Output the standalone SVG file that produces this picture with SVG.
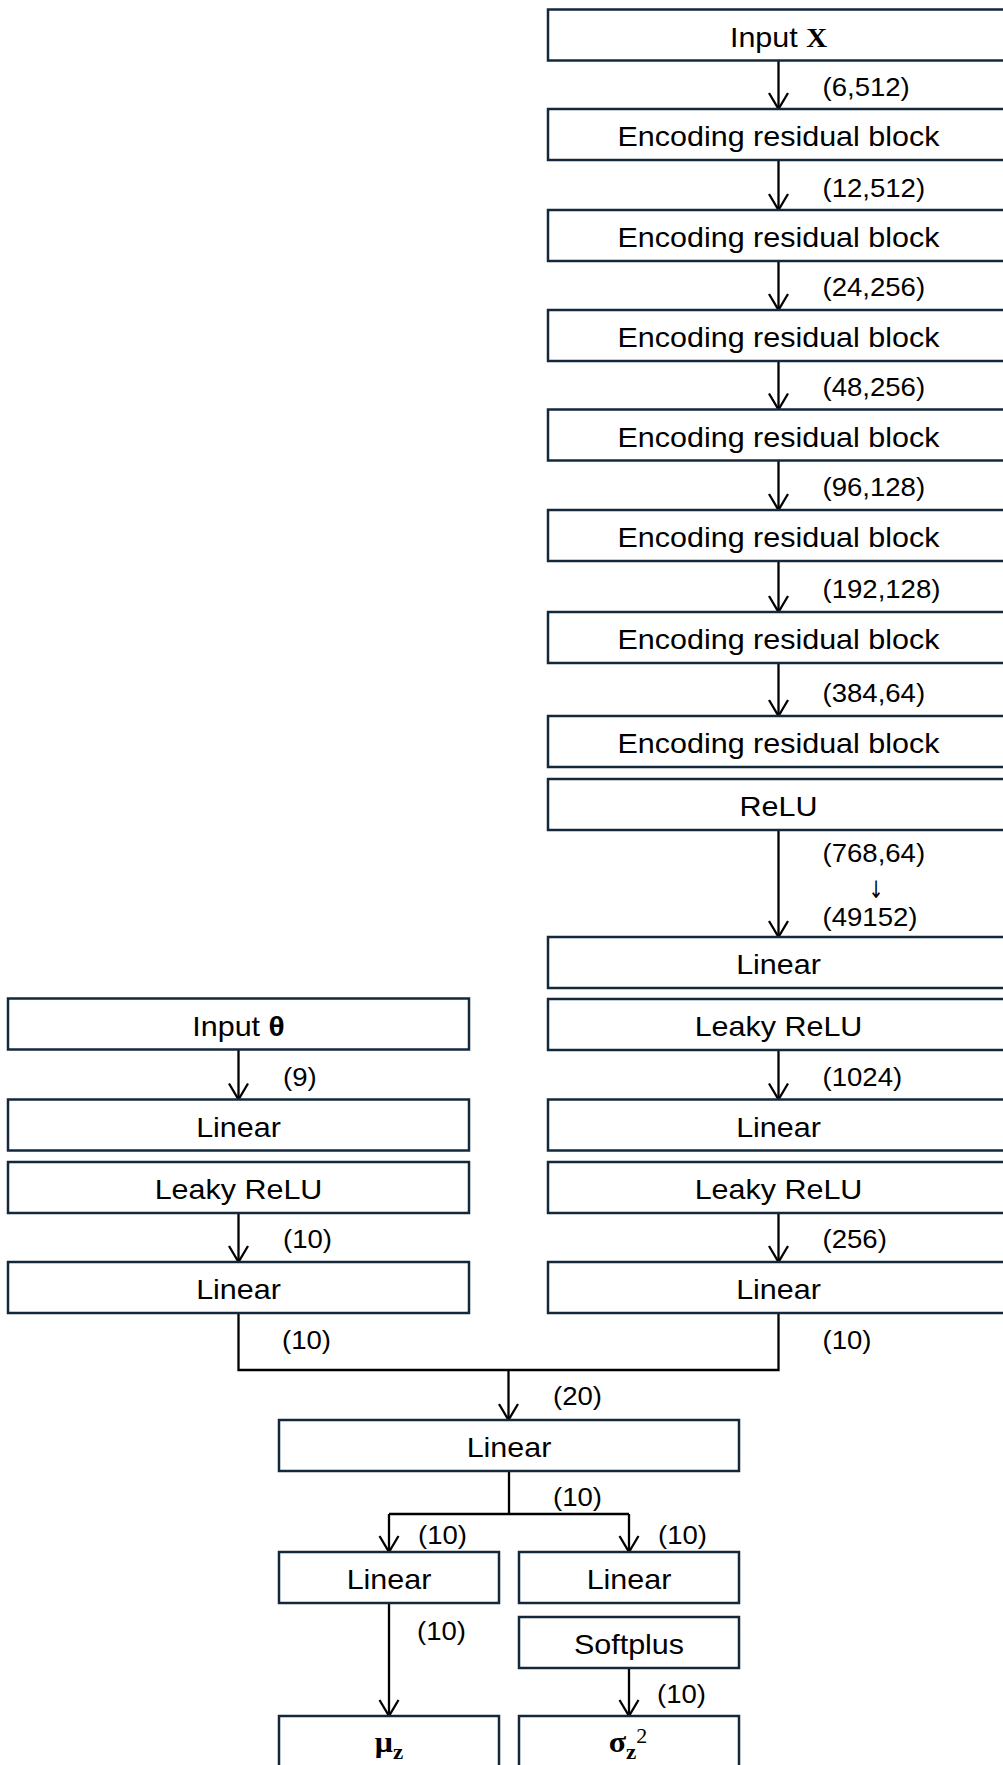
<svg xmlns="http://www.w3.org/2000/svg" width="1003" height="1765" viewBox="0 0 1003 1765">
  <style>
    .b { fill: #ffffff; stroke: #13283b; stroke-width: 2.5; }
    .t { font-family: "Liberation Sans", Arial, sans-serif; font-size: 28.5px; fill: #000; text-anchor: middle; }
    .l { font-family: "Liberation Sans", Arial, sans-serif; font-size: 26px; fill: #000; text-anchor: start; }
    .dn { font-family: "DejaVu Sans", sans-serif; font-size: 24px; fill: #000; text-anchor: middle; }
    .mx { font-family: "Liberation Serif", "Times New Roman", serif; font-weight: bold; font-size: 27px; }
    .th { font-weight: bold; font-size: 28px; }
    .m { font-family: "Liberation Serif", "Times New Roman", serif; font-weight: bold; font-size: 29px; fill: #000; text-anchor: middle; }
    .sub { font-size: 21px; }
    .sup { font-size: 20px; font-weight: normal; }
    .c { fill: none; stroke: #000; stroke-width: 2.3; }
    .a { fill: none; stroke: #000; stroke-width: 2.3; marker-end: url(#ah); }
  </style>
  <defs>
    <marker id="ah" markerUnits="userSpaceOnUse" orient="auto" markerWidth="20" markerHeight="24" viewBox="-18 -11 20 22" refX="0" refY="0" overflow="visible">
      <path d="M-16,-9.5 L0,0 L-16,9.5" fill="none" stroke="#000" stroke-width="2.3"/>
    </marker>
  </defs>

  <rect width="1003" height="1765" fill="#ffffff"/>

  <!-- connectors -->
  <g id="connectors">
    <!-- image encoder column -->
    <path class="a" d="M778.5,60.5 V109"/>
    <path class="a" d="M778.5,160 V210"/>
    <path class="a" d="M778.5,261 V310"/>
    <path class="a" d="M778.5,361 V409.5"/>
    <path class="a" d="M778.5,460.5 V510"/>
    <path class="a" d="M778.5,561 V612"/>
    <path class="a" d="M778.5,663 V716"/>
    <path class="a" d="M778.5,830 V937"/>
    <path class="a" d="M778.5,1050 V1099.5"/>
    <path class="a" d="M778.5,1213 V1262"/>
    <!-- parameter column -->
    <path class="a" d="M238.5,1049.5 V1099.5"/>
    <path class="a" d="M238.5,1213 V1262"/>
    <!-- merge of both branches -->
    <path class="c" d="M238.5,1313 V1370 H778.5 V1313"/>
    <path class="a" d="M508.5,1370 V1420"/>
    <!-- split into mean / variance heads -->
    <path class="c" d="M509,1471 V1514"/>
    <path class="c" d="M389,1514 H629"/>
    <path class="a" d="M389,1514 V1552"/>
    <path class="a" d="M629,1514 V1552"/>
    <path class="a" d="M389,1603 V1716"/>
    <path class="a" d="M629,1668 V1716"/>

    <!-- tensor shape labels -->
    <text class="l" transform="translate(822.5 96) scale(1.06 1)">(6,512)</text>
    <text class="l" transform="translate(822.5 197) scale(1.06 1)">(12,512)</text>
    <text class="l" transform="translate(822.5 296) scale(1.06 1)">(24,256)</text>
    <text class="l" transform="translate(822.5 396) scale(1.06 1)">(48,256)</text>
    <text class="l" transform="translate(822.5 496) scale(1.06 1)">(96,128)</text>
    <text class="l" transform="translate(822.5 598) scale(1.06 1)">(192,128)</text>
    <text class="l" transform="translate(822.5 702) scale(1.06 1)">(384,64)</text>
    <text class="l" transform="translate(822.5 862) scale(1.06 1)">(768,64)</text>
    <text class="dn" transform="translate(876 898) scale(0.75 1)">↓</text>
    <text class="l" transform="translate(822.5 926) scale(1.06 1)">(49152)</text>
    <text class="l" transform="translate(822.5 1086) scale(1.06 1)">(1024)</text>
    <text class="l" transform="translate(822.5 1248) scale(1.06 1)">(256)</text>
    <text class="l" transform="translate(822.5 1349) scale(1.06 1)">(10)</text>
    <text class="l" transform="translate(283 1086) scale(1.06 1)">(9)</text>
    <text class="l" transform="translate(283 1248) scale(1.06 1)">(10)</text>
    <text class="l" transform="translate(282 1349) scale(1.06 1)">(10)</text>
    <text class="l" transform="translate(553 1405) scale(1.06 1)">(20)</text>
    <text class="l" transform="translate(553 1506) scale(1.06 1)">(10)</text>
    <text class="l" transform="translate(418 1544) scale(1.06 1)">(10)</text>
    <text class="l" transform="translate(658 1544) scale(1.06 1)">(10)</text>
    <text class="l" transform="translate(417 1640) scale(1.06 1)">(10)</text>
    <text class="l" transform="translate(657 1703) scale(1.06 1)">(10)</text>
  </g>

  <!-- image encoder column -->
  <g id="input-x"><rect class="b" x="548" y="9.5" width="461" height="51"/><text class="t" transform="translate(778.5 46.5) scale(1.07 1)">Input <tspan class="mx">X</tspan></text></g>
  <g id="enc1"><rect class="b" x="548" y="109" width="461" height="51"/><text class="t" transform="translate(778.5 146) scale(1.07 1)">Encoding residual block</text></g>
  <g id="enc2"><rect class="b" x="548" y="210" width="461" height="51"/><text class="t" transform="translate(778.5 247) scale(1.07 1)">Encoding residual block</text></g>
  <g id="enc3"><rect class="b" x="548" y="310" width="461" height="51"/><text class="t" transform="translate(778.5 347) scale(1.07 1)">Encoding residual block</text></g>
  <g id="enc4"><rect class="b" x="548" y="409.5" width="461" height="51"/><text class="t" transform="translate(778.5 446.5) scale(1.07 1)">Encoding residual block</text></g>
  <g id="enc5"><rect class="b" x="548" y="510" width="461" height="51"/><text class="t" transform="translate(778.5 547) scale(1.07 1)">Encoding residual block</text></g>
  <g id="enc6"><rect class="b" x="548" y="612" width="461" height="51"/><text class="t" transform="translate(778.5 649) scale(1.07 1)">Encoding residual block</text></g>
  <g id="enc7"><rect class="b" x="548" y="716" width="461" height="51"/><text class="t" transform="translate(778.5 753) scale(1.07 1)">Encoding residual block</text></g>
  <g id="relu"><rect class="b" x="548" y="779" width="461" height="51"/><text class="t" transform="translate(778.5 816) scale(1.07 1)">ReLU</text></g>
  <g id="x-linear1"><rect class="b" x="548" y="937" width="461" height="51"/><text class="t" transform="translate(778.5 974) scale(1.07 1)">Linear</text></g>
  <g id="x-lrelu1"><rect class="b" x="548" y="999" width="461" height="51"/><text class="t" transform="translate(778.5 1036) scale(1.07 1)">Leaky ReLU</text></g>
  <g id="x-linear2"><rect class="b" x="548" y="1099.5" width="461" height="51"/><text class="t" transform="translate(778.5 1136.5) scale(1.07 1)">Linear</text></g>
  <g id="x-lrelu2"><rect class="b" x="548" y="1162" width="461" height="51"/><text class="t" transform="translate(778.5 1199) scale(1.07 1)">Leaky ReLU</text></g>
  <g id="x-linear3"><rect class="b" x="548" y="1262" width="461" height="51"/><text class="t" transform="translate(778.5 1299) scale(1.07 1)">Linear</text></g>

  <!-- parameter column -->
  <g id="input-theta"><rect class="b" x="8" y="998.5" width="461" height="51"/><text class="t" transform="translate(238.5 1035.5) scale(1.07 1)">Input <tspan class="th">θ</tspan></text></g>
  <g id="t-linear1"><rect class="b" x="8" y="1099.5" width="461" height="51"/><text class="t" transform="translate(238.5 1136.5) scale(1.07 1)">Linear</text></g>
  <g id="t-lrelu"><rect class="b" x="8" y="1162" width="461" height="51"/><text class="t" transform="translate(238.5 1199) scale(1.07 1)">Leaky ReLU</text></g>
  <g id="t-linear2"><rect class="b" x="8" y="1262" width="461" height="51"/><text class="t" transform="translate(238.5 1299) scale(1.07 1)">Linear</text></g>

  <!-- joint head -->
  <g id="joint-linear"><rect class="b" x="279" y="1420" width="460" height="51"/><text class="t" transform="translate(509 1457) scale(1.07 1)">Linear</text></g>
  <g id="mu-linear"><rect class="b" x="279" y="1552" width="220" height="51"/><text class="t" transform="translate(389 1589) scale(1.07 1)">Linear</text></g>
  <g id="var-linear"><rect class="b" x="519" y="1552" width="220" height="51"/><text class="t" transform="translate(629 1589) scale(1.07 1)">Linear</text></g>
  <g id="softplus"><rect class="b" x="519" y="1617" width="220" height="51"/><text class="t" transform="translate(629 1654) scale(1.07 1)">Softplus</text></g>
  <g id="mu-out"><rect class="b" x="279" y="1716" width="220" height="51"/><text class="m" transform="translate(389 1752) scale(1.1 1)">μ<tspan class="sub" dy="7">z</tspan></text></g>
  <g id="var-out"><rect class="b" x="519" y="1716" width="220" height="51"/><text class="m" transform="translate(628 1752) scale(1.1 1)">σ<tspan class="sub" dy="7">z</tspan><tspan class="sup" dy="-16">2</tspan></text></g>
</svg>
